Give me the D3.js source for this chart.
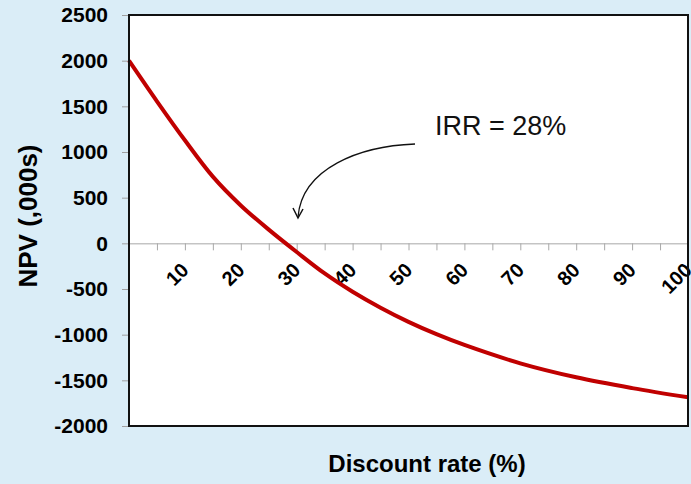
<!DOCTYPE html>
<html><head><meta charset="utf-8">
<script src="https://cdn.jsdelivr.net/npm/d3@7"></script>
<style>
html,body{margin:0;padding:0;background:#daedf7;}
svg{display:block;}
</style></head>
<body>
<svg id="chart" width="691" height="484"></svg>
<script>
const rates = [0, 5, 10, 15, 20, 25, 30, 35, 40, 45, 50, 55, 60, 70, 80, 90, 100];
const npv = [2000, 1555, 1128, 730, 415, 150, -95, -330, -530, -705, -860, -995, -1113, -1314, -1467, -1585, -1686];
const yTicks = [2500, 2000, 1500, 1000, 500, 0, -500, -1000, -1500, -2000];
const xMinorTicks = [5,10,15,20,25,30,35,40,45,50,55,60,65,70,75,80,85,90,95,100];
const xLabels = [10,20,30,40,50,60,70,80,90,100];
const annotation = "IRR = 28%";
const xTitle = "Discount rate (%)";
const yTitle = "NPV (,000s)";

const svg = d3.select("#chart");
const L = 129, R = 688, T = 15, B = 426;
const x = d3.scaleLinear().domain([0, 100]).range([L, R]);
const y = d3.scaleLinear().domain([-2000, 2500]).range([B, T]);
const FONT = "Liberation Sans, Arial, sans-serif";

svg.append("rect").attr("x", L).attr("y", T).attr("width", R - L).attr("height", B - T)
  .attr("fill", "#ffffff");

const yAxis = svg.append("g").attr("transform", `translate(${L},0)`)
  .call(d3.axisLeft(y).tickValues(yTicks).tickSize(7).tickPadding(14).tickFormat(d => String(d)));
yAxis.select(".domain").remove();
yAxis.selectAll(".tick line").attr("stroke", "#a0a0a0").attr("stroke-width", 1);
yAxis.selectAll(".tick text").attr("font-family", FONT)
  .attr("font-weight", "bold").attr("font-size", 21).attr("fill", "#000");

const xAxis = svg.append("g").attr("transform", `translate(0,${y(0)})`)
  .call(d3.axisBottom(x).tickValues(xMinorTicks).tickSize(7).tickFormat(""));
xAxis.select(".domain").attr("stroke", "#a8a8a8").attr("stroke-width", 1);
xAxis.selectAll(".tick line").attr("stroke", "#a8a8a8").attr("stroke-width", 1);

svg.append("g").selectAll("text").data(xLabels).join("text")
  .attr("transform", d => `translate(${x(d) + 5},${y(0) + 28}) rotate(-45)`)
  .attr("text-anchor", "end")
  .attr("font-family", FONT)
  .attr("font-weight", "bold").attr("font-size", 20).attr("fill", "#000")
  .text(d => d);

const line = d3.line().x((d, i) => x(rates[i])).y(d => y(d)).curve(d3.curveCatmullRom.alpha(0.5));
svg.append("path").datum(npv).attr("d", line)
  .attr("fill", "none").attr("stroke", "#c00000").attr("stroke-width", 4);

svg.append("rect").attr("x", L).attr("y", T).attr("width", R - L).attr("height", B - T)
  .attr("fill", "none").attr("stroke", "#111").attr("stroke-width", 2);

svg.append("text").attr("x", 435).attr("y", 135)
  .attr("font-family", FONT).attr("font-size", 27).attr("fill", "#111")
  .text(annotation);
svg.append("path").attr("d", "M415,144 C360,146 302,168 298,217")
  .attr("fill", "none").attr("stroke", "#111").attr("stroke-width", 1.3);
svg.append("path").attr("d", "M293,208 L298,218 L303,209")
  .attr("fill", "none").attr("stroke", "#111").attr("stroke-width", 1.5);

svg.append("text").attr("x", 427).attr("y", 472).attr("text-anchor", "middle")
  .attr("font-family", FONT).attr("font-weight", "bold")
  .attr("font-size", 24).attr("fill", "#000").text(xTitle);
svg.append("text").attr("transform", "translate(37,216) rotate(-90)").attr("text-anchor", "middle")
  .attr("font-family", FONT).attr("font-weight", "bold")
  .attr("font-size", 26).attr("fill", "#000").text(yTitle);
</script>
</body></html>
